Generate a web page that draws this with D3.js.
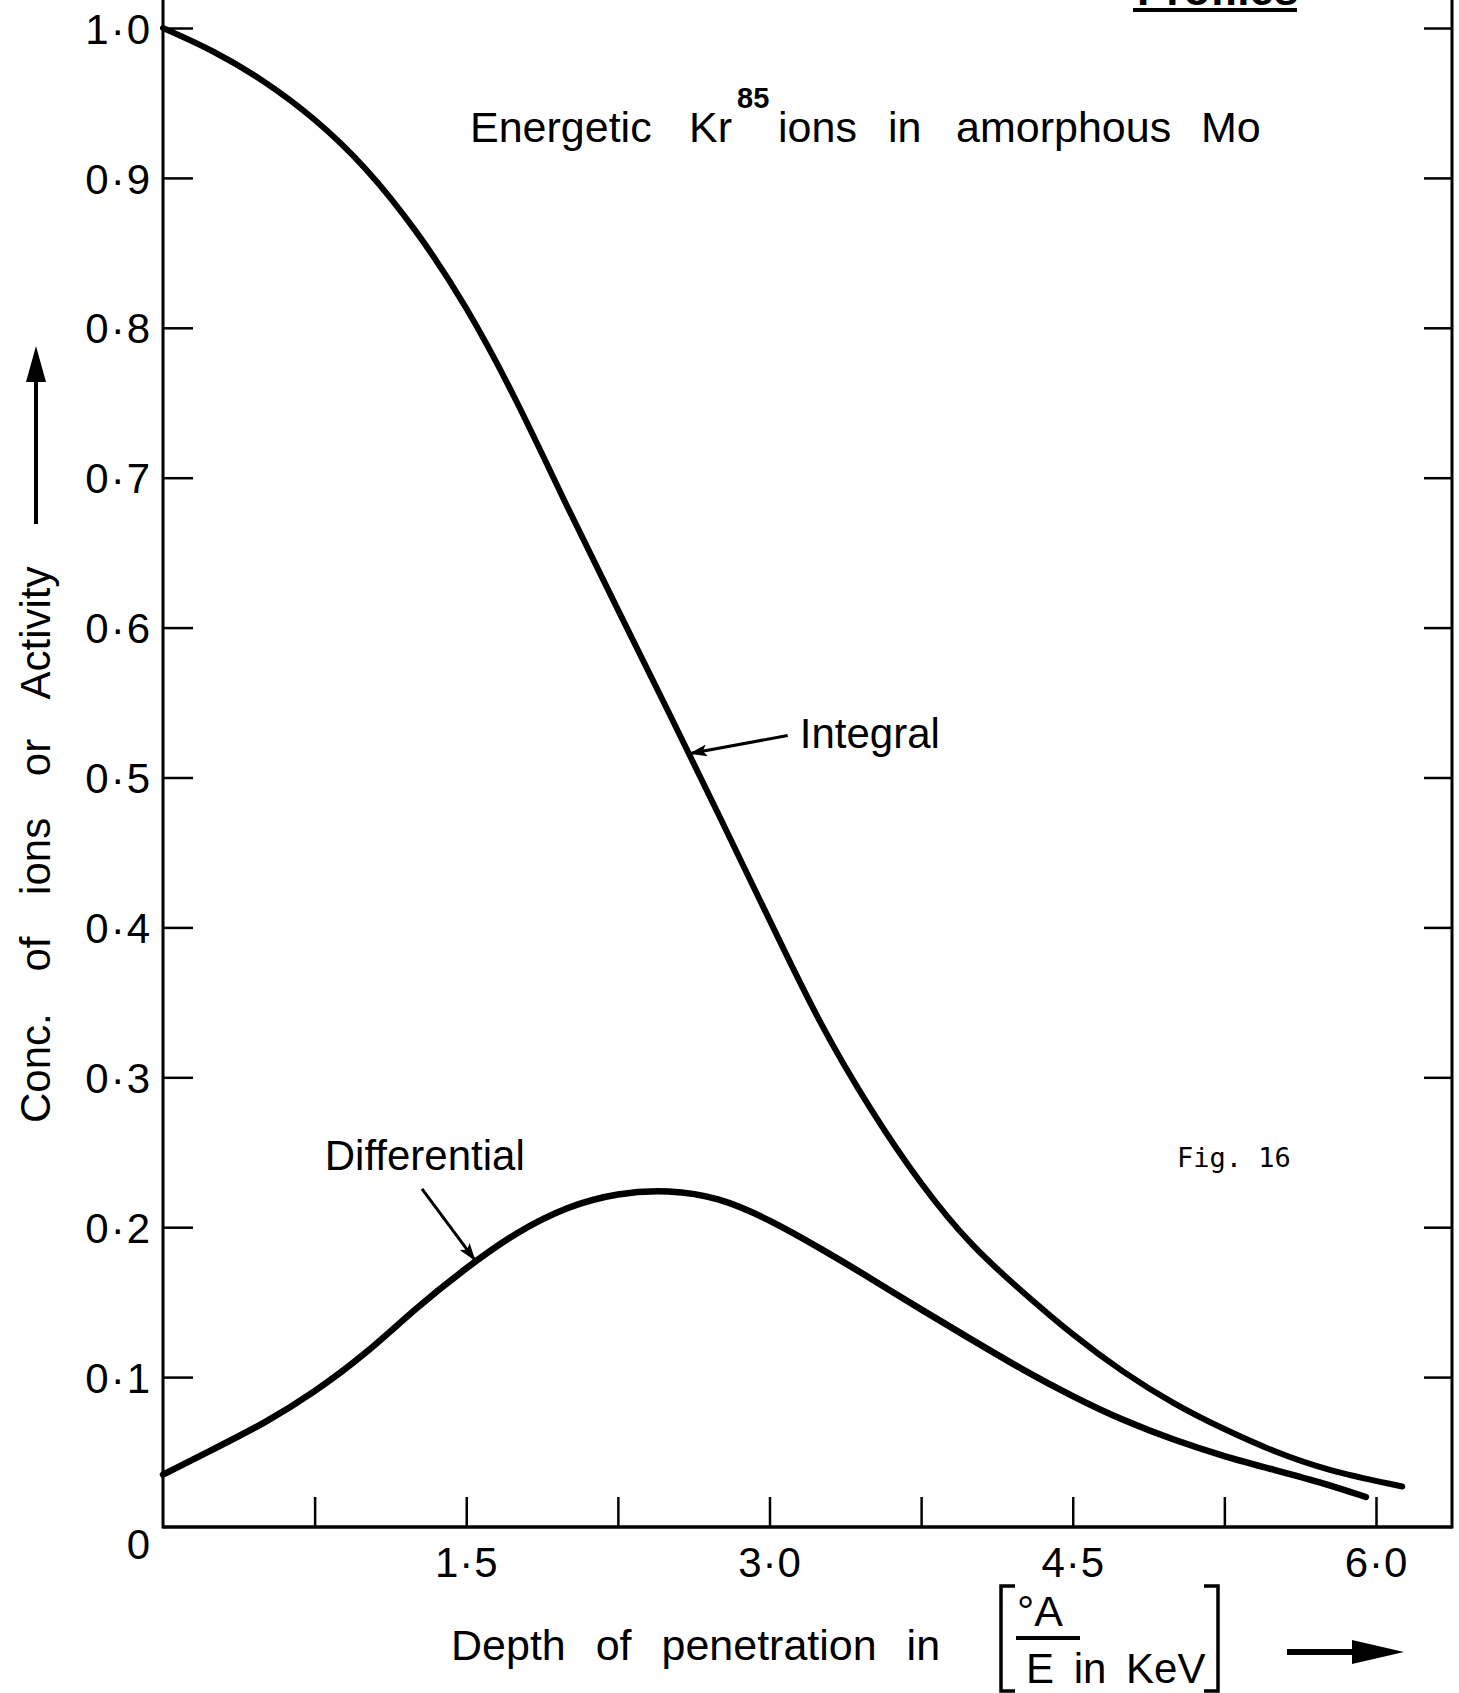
<!DOCTYPE html>
<html>
<head>
<meta charset="utf-8">
<script src="https://d3js.org/d3.v7.min.js"></script>
<style>
body { margin: 0; background: #fff; }
text { font-family: "Liberation Sans", Arial, sans-serif; fill: #000; }
</style>
</head>
<body>
<script>
var width = 1459, height = 1693;
var margin = {top: 28, right: 7, bottom: 166, left: 163};
var innerW = width - margin.left - margin.right;
var innerH = height - margin.top - margin.bottom;

// Integral curve (depth, fraction)
var integralX = [0, 0.25, 0.5, 0.75, 1.0, 1.25, 1.5, 1.75, 2.0, 2.25, 2.5, 2.75, 3.0,
                 3.25, 3.5, 3.75, 4.0, 4.25, 4.5, 4.75, 5.0, 5.25, 5.5, 5.75, 6.13];
var integralY = [1.0, 0.985, 0.965, 0.940, 0.908, 0.866, 0.815, 0.752, 0.680, 0.612, 0.544, 0.475, 0.405,
                 0.335, 0.278, 0.228, 0.187, 0.157, 0.128, 0.103, 0.082, 0.065, 0.050, 0.038, 0.027];

// Differential curve
var diffX = [0, 0.25, 0.5, 0.75, 1.0, 1.25, 1.5, 1.75, 2.0, 2.25, 2.5, 2.75, 3.0,
             3.25, 3.5, 3.75, 4.0, 4.25, 4.5, 4.75, 5.0, 5.25, 5.5, 5.75, 5.95];
var diffY = [0.035, 0.052, 0.069, 0.090, 0.115, 0.146, 0.173, 0.197, 0.214, 0.223, 0.225, 0.220, 0.205,
             0.186, 0.166, 0.145, 0.125, 0.105, 0.087, 0.071, 0.058, 0.047, 0.038, 0.029, 0.020];

var xMax = 6.376;
var yTicks = [0, 0.1, 0.2, 0.3, 0.4, 0.5, 0.6, 0.7, 0.8, 0.9, 1.0];
var yTickLabels = ["0", "0·1", "0·2", "0·3", "0·4", "0·5", "0·6", "0·7", "0·8", "0·9", "1·0"];
var rightTicks = [0.1, 0.2, 0.3, 0.4, 0.5, 0.6, 0.7, 0.8, 0.9, 1.0];
var xTicks = [0.75, 1.5, 2.25, 3.0, 3.75, 4.5, 5.25, 6.0];
var xTickLabels = {1.5: "1·5", 3: "3·0", 4.5: "4·5", 6: "6·0"};

var integral = integralX.map(function(v, i) { return {x: v, y: integralY[i]}; });
var differential = diffX.map(function(v, i) { return {x: v, y: diffY[i]}; });

var svg = d3.select("body").append("svg")
    .attr("width", width)
    .attr("height", height);

svg.append("rect").attr("width", width).attr("height", height).style("fill", "#fff");

var g = svg.append("g").attr("transform", "translate(" + margin.left + "," + margin.top + ")");

var x = d3.scaleLinear().domain([0, xMax]).range([0, innerW]);
var y = d3.scaleLinear().domain([0, 1]).range([innerH, 0]);

// frame
g.append("line").attr("x1", 0).attr("x2", 0).attr("y1", -margin.top).attr("y2", innerH + 1.5)
    .style("stroke", "#000").style("stroke-width", 3);
g.append("line").attr("x1", innerW).attr("x2", innerW).attr("y1", -margin.top).attr("y2", innerH + 1.5)
    .style("stroke", "#000").style("stroke-width", 3);
g.append("line").attr("x1", 0).attr("x2", innerW).attr("y1", innerH).attr("y2", innerH)
    .style("stroke", "#000").style("stroke-width", 3.5);

// left axis, ticks pointing inward
var leftAxis = g.append("g")
    .call(d3.axisLeft(y).tickValues(yTicks).tickSize(-30).tickPadding(11)
        .tickFormat(function(d, i) { return yTickLabels[i]; }));
leftAxis.select(".domain").remove();
leftAxis.selectAll("line").style("stroke-width", 2.5)
    .filter(function(d) { return d === 0; }).remove();
leftAxis.selectAll("text")
    .style("font-family", "'Liberation Sans', Arial, sans-serif")
    .style("font-size", "42px")
    .style("letter-spacing", "2px")
    .attr("dy", function(d) { return d === 0 ? "0.75em" : "0.36em"; });

// right axis
var rightAxis = g.append("g")
    .attr("transform", "translate(" + innerW + ",0)")
    .call(d3.axisRight(y).tickValues(rightTicks).tickSize(-28).tickFormat(""));
rightAxis.select(".domain").remove();
rightAxis.selectAll("line").style("stroke-width", 2.5);

// bottom axis
var bottomAxis = g.append("g")
    .attr("transform", "translate(0," + innerH + ")")
    .call(d3.axisBottom(x).tickValues(xTicks).tickSize(-30).tickPadding(20)
        .tickFormat(function(d) { return xTickLabels[d] || ""; }));
bottomAxis.select(".domain").remove();
bottomAxis.selectAll("line").style("stroke-width", 2.5);
bottomAxis.selectAll("text")
    .style("font-family", "'Liberation Sans', Arial, sans-serif")
    .style("font-size", "42px")
    .style("letter-spacing", "1px");

// curves
var line = d3.line()
    .x(function(d) { return x(d.x); })
    .y(function(d) { return y(d.y); })
    .curve(d3.curveBasis);

g.append("path").datum(integral).attr("d", line)
    .style("fill", "none").style("stroke", "#000").style("stroke-width", 6)
    .style("stroke-linecap", "round");
g.append("path").datum(differential).attr("d", line)
    .style("fill", "none").style("stroke", "#000").style("stroke-width", 6.5)
    .style("stroke-linecap", "round");

// annotations
svg.append("defs").append("marker")
    .attr("id", "head")
    .attr("markerUnits", "userSpaceOnUse")
    .attr("viewBox", "0 0 18 12")
    .attr("markerWidth", 18).attr("markerHeight", 12)
    .attr("refX", 17).attr("refY", 6)
    .attr("orient", "auto")
    .append("path").attr("d", "M0,0 L18,6 L0,12 L4,6 Z").style("fill", "#000");

var notes = [
    {text: "Integral", tip: [2.607, 0.516], tail: [3.09, 0.528], label: [3.15, 0.520]},
    {text: "Differential", tip: [1.543, 0.178], tail: [1.281, 0.2255], label: [0.80, 0.238]}
];
notes.forEach(function(n) {
    g.append("line")
        .attr("x1", x(n.tail[0])).attr("y1", y(n.tail[1]))
        .attr("x2", x(n.tip[0])).attr("y2", y(n.tip[1]))
        .style("stroke", "#000").style("stroke-width", 3)
        .attr("marker-end", "url(#head)");
    g.append("text")
        .attr("x", x(n.label[0])).attr("y", y(n.label[1]))
        .style("font-size", "42px")
        .text(n.text);
});

// title
var title = svg.append("text").attr("y", 142).style("font-size", "43px");
var words = [["Energetic", 470], ["Kr", 689], ["ions", 778], ["in", 888], ["amorphous", 956], ["Mo", 1201]];
words.forEach(function(w) {
    title.append("tspan").attr("x", w[1]).attr("y", 142).text(w[0]);
});
svg.append("text").attr("x", 737).attr("y", 108)
    .style("font-size", "29px").style("font-weight", "bold").text("85");

// heading cut off at the top edge, as in the scan
svg.append("text").attr("x", 1137).attr("y", 5)
    .style("font-size", "44px").style("font-weight", "bold").text("Profiles");
svg.append("line").attr("x1", 1133).attr("x2", 1297).attr("y1", 10).attr("y2", 10)
    .style("stroke", "#000").style("stroke-width", 4);

svg.append("text").attr("x", 1177).attr("y", 1167)
    .style("font-family", "'DejaVu Sans Mono', monospace").style("font-size", "27px")
    .text("Fig. 16");

// y axis title with arrow
svg.append("text")
    .attr("transform", "translate(50,1123) rotate(-90)")
    .style("font-size", "42px").style("word-spacing", "30px")
    .text("Conc. of ions or Activity");
svg.append("line").attr("x1", 36).attr("x2", 36).attr("y1", 524).attr("y2", 375)
    .style("stroke", "#000").style("stroke-width", 4);
svg.append("path").attr("d", "M36,346 L46,382 L26,382 Z").style("fill", "#000");

// x axis title
svg.append("text").attr("x", 451).attr("y", 1660)
    .style("font-size", "43px").style("word-spacing", "18px")
    .text("Depth of penetration in");
svg.append("path")
    .attr("d", "M1015,1586 L1001,1586 L1001,1691 L1015,1691 M1204,1586 L1218,1586 L1218,1691 L1204,1691")
    .style("fill", "none").style("stroke", "#000").style("stroke-width", 3.5);
svg.append("text").attr("x", 1017).attr("y", 1626).style("font-size", "43px").text("°A");
svg.append("line").attr("x1", 1016).attr("x2", 1080).attr("y1", 1638).attr("y2", 1638)
    .style("stroke", "#000").style("stroke-width", 4);
svg.append("text").attr("x", 1026).attr("y", 1683).style("font-size", "42px")
    .style("word-spacing", "8px").text("E in KeV");
svg.append("line").attr("x1", 1287).attr("x2", 1360).attr("y1", 1652).attr("y2", 1652)
    .style("stroke", "#000").style("stroke-width", 6);
svg.append("path").attr("d", "M1404,1652 L1352,1640 L1352,1664 Z").style("fill", "#000");
</script>
</body>
</html>
